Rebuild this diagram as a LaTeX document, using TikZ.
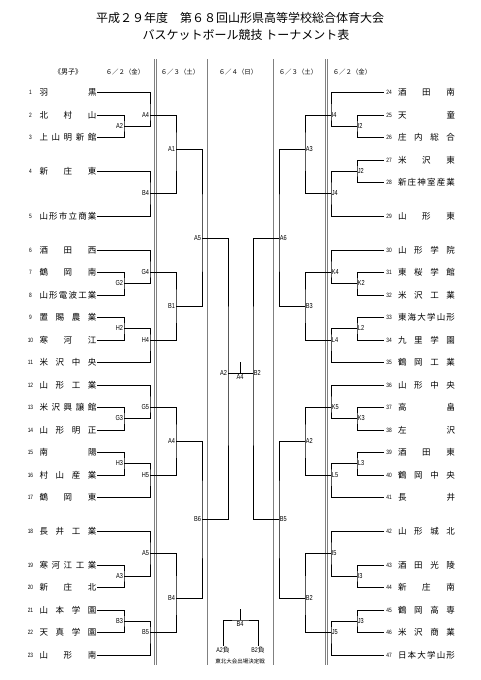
\documentclass[tikz,border=0pt]{standalone}
\usepackage{fontspec}
\setmainfont{Noto Sans CJK JP}
\newfontfamily\lblfont{Liberation Sans}[FakeStretch=0.78]
\makeatletter
\def\spr#1{\spr@a#1\relax}
\def\spr@a#1{#1\futurelet\spr@n\spr@b}
\def\spr@b{\ifx\spr@n\relax\expandafter\@gobble\else\hfill\expandafter\spr@a\fi}
\makeatother
\newcommand\tn[1]{\makebox[57pt]{\spr{#1}}}
\begin{document}
\begin{tikzpicture}[x=1pt,y=-1pt,
  team/.style={inner sep=0.5pt,font=\fontsize{8.5}{9}\selectfont},
  num/.style={inner sep=2pt,font=\lblfont\fontsize{6.2}{7}\selectfont},
  lbl/.style={inner sep=0.7pt,font=\lblfont\fontsize{7.2}{8}\selectfont},
  hd/.style={inner sep=0pt,font=\fontsize{6.4}{7}\selectfont},
  ttl/.style={inner sep=0pt,font=\fontsize{12}{14}\selectfont},
  wire/.style={line width=0.8pt},
  sep/.style={gray,line width=0.5pt}]
\useasboundingbox (0,0) rectangle (481,680);
\node[ttl](ttl1)at(240,18){平成２９年度　第６８回山形県高等学校総合体育大会};
\node[ttl](ttl2)at(246,35){バスケットボール競技 トーナメント表};
\node[hd,font=\fontsize{7}{8}\selectfont](hdm)at(68,72){《男子》};
\node[hd](hd1)at(125,72){６／２（金）};\node[hd](hd2)at(180,72){６／３（土）};
\node[hd](hd3)at(238,72){６／４（日）};\node[hd](hd4)at(298,72){６／３（土）};
\node[hd](hd5)at(352,72){６／２（金）};
% day columns
\draw[sep](154.2,59)--(154.2,665);\draw[sep](155.8,59)--(155.8,665);
\draw[sep](207,59)--(207,665);\draw[sep](273.5,59)--(273.5,665);
\draw[sep](325.2,59)--(325.2,665);\draw[sep](326.8,59)--(326.8,665);
% left teams
\node[num](n1)at(30.5,92){1};\node[team](t1)at(68,92){\tn{羽黒}};
\node[num](n2)at(30.5,115){2};\node[team](t2)at(68,115){\tn{北村山}};
\node[num](n3)at(30.5,137){3};\node[team](t3)at(68,137){\tn{上山明新館}};
\node[num](n4)at(30.5,171){4};\node[team](t4)at(68,171){\tn{新庄東}};
\node[num](n5)at(30.5,216){5};\node[team](t5)at(68,216){\tn{山形市立商業}};
\node[num](n6)at(30.5,250){6};\node[team](t6)at(68,250){\tn{酒田西}};
\node[num](n7)at(30.5,272){7};\node[team](t7)at(68,272){\tn{鶴岡南}};
\node[num](n8)at(30.5,295){8};\node[team](t8)at(68,295){\tn{山形電波工業}};
\node[num](n9)at(30.5,317){9};\node[team](t9)at(68,317){\tn{置賜農業}};
\node[num](n10)at(30.5,340){10};\node[team](t10)at(68,340){\tn{寒河江}};
\node[num](n11)at(30.5,362){11};\node[team](t11)at(68,362){\tn{米沢中央}};
\node[num](n12)at(30.5,385){12};\node[team](t12)at(68,385){\tn{山形工業}};
\node[num](n13)at(30.5,407){13};\node[team](t13)at(68,407){\tn{米沢興譲館}};
\node[num](n14)at(30.5,430){14};\node[team](t14)at(68,430){\tn{山形明正}};
\node[num](n15)at(30.5,452){15};\node[team](t15)at(68,452){\tn{南陽}};
\node[num](n16)at(30.5,475){16};\node[team](t16)at(68,475){\tn{村山産業}};
\node[num](n17)at(30.5,497){17};\node[team](t17)at(68,497){\tn{鶴岡東}};
\node[num](n18)at(30.5,531){18};\node[team](t18)at(68,531){\tn{長井工業}};
\node[num](n19)at(30.5,565){19};\node[team](t19)at(68,565){\tn{寒河江工業}};
\node[num](n20)at(30.5,587){20};\node[team](t20)at(68,587){\tn{新庄北}};
\node[num](n21)at(30.5,610){21};\node[team](t21)at(68,610){\tn{山本学園}};
\node[num](n22)at(30.5,632){22};\node[team](t22)at(68,632){\tn{天真学園}};
\node[num](n23)at(30.5,655){23};\node[team](t23)at(68,655){\tn{山形南}};
% right teams
\node[num](n24)at(389,92){24};\node[team](t24)at(426.5,92){\tn{酒田南}};
\node[num](n25)at(389,115){25};\node[team](t25)at(426.5,115){\tn{天童}};
\node[num](n26)at(389,137){26};\node[team](t26)at(426.5,137){\tn{庄内総合}};
\node[num](n27)at(389,160){27};\node[team](t27)at(426.5,160){\tn{米沢東}};
\node[num](n28)at(389,182){28};\node[team](t28)at(426.5,182){\tn{新庄神室産業}};
\node[num](n29)at(389,216){29};\node[team](t29)at(426.5,216){\tn{山形東}};
\node[num](n30)at(389,250){30};\node[team](t30)at(426.5,250){\tn{山形学院}};
\node[num](n31)at(389,272){31};\node[team](t31)at(426.5,272){\tn{東桜学館}};
\node[num](n32)at(389,295){32};\node[team](t32)at(426.5,295){\tn{米沢工業}};
\node[num](n33)at(389,317){33};\node[team](t33)at(426.5,317){\tn{東海大学山形}};
\node[num](n34)at(389,340){34};\node[team](t34)at(426.5,340){\tn{九里学園}};
\node[num](n35)at(389,362){35};\node[team](t35)at(426.5,362){\tn{鶴岡工業}};
\node[num](n36)at(389,385){36};\node[team](t36)at(426.5,385){\tn{山形中央}};
\node[num](n37)at(389,407){37};\node[team](t37)at(426.5,407){\tn{高畠}};
\node[num](n38)at(389,430){38};\node[team](t38)at(426.5,430){\tn{左沢}};
\node[num](n39)at(389,452){39};\node[team](t39)at(426.5,452){\tn{酒田東}};
\node[num](n40)at(389,475){40};\node[team](t40)at(426.5,475){\tn{鶴岡中央}};
\node[num](n41)at(389,497){41};\node[team](t41)at(426.5,497){\tn{長井}};
\node[num](n42)at(389,531){42};\node[team](t42)at(426.5,531){\tn{山形城北}};
\node[num](n43)at(389,565){43};\node[team](t43)at(426.5,565){\tn{酒田光陵}};
\node[num](n44)at(389,587){44};\node[team](t44)at(426.5,587){\tn{新庄南}};
\node[num](n45)at(389,610){45};\node[team](t45)at(426.5,610){\tn{鶴岡高専}};
\node[num](n46)at(389,632){46};\node[team](t46)at(426.5,632){\tn{米沢商業}};
\node[num](n47)at(389,655){47};\node[team](t47)at(426.5,655){\tn{日本大学山形}};
% games, left half
\coordinate[label={[lbl]left:A2}](fA2)at(124,126);\coordinate[label={[lbl]left:A4}](fA4)at(150,115);
\coordinate[label={[lbl]left:B4}](fB4)at(150,193);\coordinate[label={[lbl]left:G2}](fG2)at(124,283);
\coordinate[label={[lbl]left:G4}](fG4)at(150,272);\coordinate[label={[lbl]left:H2}](fH2)at(124,328);
\coordinate[label={[lbl]left:H4}](fH4)at(150,340);\coordinate[label={[lbl]left:G3}](fG3)at(124,418);
\coordinate[label={[lbl]left:G5}](fG5)at(150,407);\coordinate[label={[lbl]left:H3}](fH3)at(124,463);
\coordinate[label={[lbl]left:H5}](fH5)at(150,475);\coordinate[label={[lbl]left:A3}](fA3)at(124,576);
\coordinate[label={[lbl]left:A5}](fA5)at(150,553);\coordinate[label={[lbl]left:B3}](fB3)at(124,621);
\coordinate[label={[lbl]left:B5}](fB5)at(150,632);
\coordinate[label={[lbl]left:A1}](sA1)at(176,149);\coordinate[label={[lbl]left:B1}](sB1)at(176,306);
\coordinate[label={[lbl]left:A4}](sA4)at(176,441);\coordinate[label={[lbl]left:B4}](sB4)at(176,598);
\coordinate[label={[lbl]left:A5}](sA5)at(202,238);\coordinate[label={[lbl]left:B6}](sB6)at(202,519);
\coordinate[label={[lbl]left:A2}](uA2)at(228,373);
% games, right half
\coordinate[label={[lbl]right:I2}](fI2)at(357,126);\coordinate[label={[lbl]right:I4}](fI4)at(331,115);
\coordinate[label={[lbl]right:J2}](fJ2)at(357,171);\coordinate[label={[lbl]right:J4}](fJ4)at(331,193);
\coordinate[label={[lbl]right:K2}](fK2)at(357,283);\coordinate[label={[lbl]right:K4}](fK4)at(331,272);
\coordinate[label={[lbl]right:L2}](fL2)at(357,328);\coordinate[label={[lbl]right:L4}](fL4)at(331,340);
\coordinate[label={[lbl]right:K3}](fK3)at(357,418);\coordinate[label={[lbl]right:K5}](fK5)at(331,407);
\coordinate[label={[lbl]right:L3}](fL3)at(357,463);\coordinate[label={[lbl]right:L5}](fL5)at(331,475);
\coordinate[label={[lbl]right:I3}](fI3)at(357,576);\coordinate[label={[lbl]right:I5}](fI5)at(331,553);
\coordinate[label={[lbl]right:J3}](fJ3)at(357,621);\coordinate[label={[lbl]right:J5}](fJ5)at(331,632);
\coordinate[label={[lbl]right:A3}](sA3)at(305,149);\coordinate[label={[lbl]right:B3}](sB3)at(305,306);
\coordinate[label={[lbl]right:A2}](sA2)at(305,441);\coordinate[label={[lbl]right:B2}](sB2)at(305,598);
\coordinate[label={[lbl]right:A6}](sA6)at(279,238);\coordinate[label={[lbl]right:B5}](sB5)at(279,519);
\coordinate[label={[lbl]right:B2}](uB2)at(253,373);
\coordinate[label={[lbl,label distance=1pt]below:A4}](uA4)at(240,373);\coordinate(uA4t)at(240,362);
% left bracket
\draw[wire](t2.east)-|(fA2)|-(t3.east);\draw[wire](t1.east)-|(fA4)|-(fA2);
\draw[wire](t4.east)-|(fB4)|-(t5.east);\draw[wire](fA4)-|(sA1)|-(fB4);
\draw[wire](t7.east)-|(fG2)|-(t8.east);\draw[wire](t6.east)-|(fG4)|-(fG2);
\draw[wire](t9.east)-|(fH2)|-(t10.east);\draw[wire](fH2)-|(fH4)|-(t11.east);
\draw[wire](fG4)-|(sB1)|-(fH4);\draw[wire](sA1)-|(sA5)|-(sB1);
\draw[wire](t13.east)-|(fG3)|-(t14.east);\draw[wire](t12.east)-|(fG5)|-(fG3);
\draw[wire](t15.east)-|(fH3)|-(t16.east);\draw[wire](fH3)-|(fH5)|-(t17.east);
\draw[wire](fG5)-|(sA4)|-(fH5);
\draw[wire](t19.east)-|(fA3)|-(t20.east);\draw[wire](t18.east)-|(fA5)|-(fA3);
\draw[wire](t21.east)-|(fB3)|-(t22.east);\draw[wire](fB3)-|(fB5)|-(t23.east);
\draw[wire](fA5)-|(sB4)|-(fB5);\draw[wire](sA4)-|(sB6)|-(sB4);
\draw[wire](sA5)-|(uA2)|-(sB6);
% right bracket
\draw[wire](n25.west)-|(fI2)|-(n26.west);\draw[wire](n24.west)-|(fI4)|-(fI2);
\draw[wire](n27.west)-|(fJ2)|-(n28.west);\draw[wire](fJ2)-|(fJ4)|-(n29.west);
\draw[wire](fI4)-|(sA3)|-(fJ4);
\draw[wire](n31.west)-|(fK2)|-(n32.west);\draw[wire](n30.west)-|(fK4)|-(fK2);
\draw[wire](n33.west)-|(fL2)|-(n34.west);\draw[wire](fL2)-|(fL4)|-(n35.west);
\draw[wire](fK4)-|(sB3)|-(fL4);\draw[wire](sA3)-|(sA6)|-(sB3);
\draw[wire](n37.west)-|(fK3)|-(n38.west);\draw[wire](n36.west)-|(fK5)|-(fK3);
\draw[wire](n39.west)-|(fL3)|-(n40.west);\draw[wire](fL3)-|(fL5)|-(n41.west);
\draw[wire](fK5)-|(sA2)|-(fL5);
\draw[wire](n43.west)-|(fI3)|-(n44.west);\draw[wire](n42.west)-|(fI5)|-(fI3);
\draw[wire](n45.west)-|(fJ3)|-(n46.west);\draw[wire](fJ3)-|(fJ5)|-(n47.west);
\draw[wire](fI5)-|(sB2)|-(fJ5);\draw[wire](sA2)-|(sB5)|-(sB2);
\draw[wire](sA6)-|(uB2)|-(sB5);
% final
\draw[wire](uA2)--(uB2);\draw[wire](uA4)--(uA4t);
% third place
\node[lbl,font=\fontsize{6.8}{7}\selectfont](uA2l)at(223,650){{\lblfont A2}負};
\node[lbl,font=\fontsize{6.8}{7}\selectfont](uB2l)at(258,650){{\lblfont B2}負};
\coordinate[label={[lbl,label distance=1pt]below:B4}](uB4)at(240,620);\coordinate(uB4t)at(240,609);
\draw[wire](uA2l.north)|-(uB4)-|(uB2l.north);\draw[wire](uB4)--(uB4t);
\node[hd,font=\fontsize{5.5}{6}\selectfont](note)at(240,661){東北大会出場決定戦};
\end{tikzpicture}
\end{document}
